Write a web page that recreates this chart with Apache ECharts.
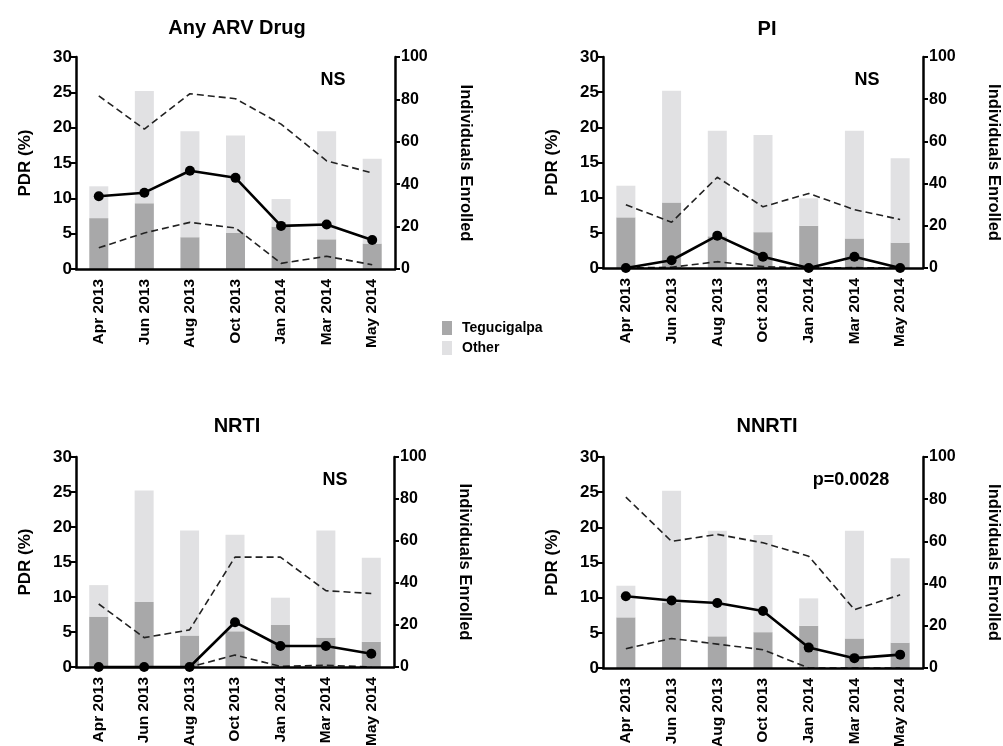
<!DOCTYPE html>
<html><head><meta charset="utf-8">
<script src="https://cdn.jsdelivr.net/npm/echarts@6/dist/echarts.min.js"></script>
<style>html,body{margin:0;padding:0;background:#fff}#c{width:1003px;height:746px}</style>
</head><body><div id="c"></div>
<script>
var categories = ['Apr 2013','Jun 2013','Aug 2013','Oct 2013','Jan 2014','Mar 2014','May 2014'];
var tegucigalpa = [24,31,15,17,20,14,12];
var other = [15,53,50,46,13,51,40];
var panelTitles = ['Any ARV Drug','PI','NRTI','NNRTI'];
var panelNotes = ['NS','NS','NS','p=0.0028'];
var pdrAny   = [10.3,10.8,13.9,12.9,6.1,6.3,4.1];
var upperAny = [24.5,19.8,24.8,24.1,20.5,15.3,13.6];
var lowerAny = [3.0,5.1,6.6,5.8,0.8,1.8,0.6];
var pdrPI    = [0,1.1,4.6,1.6,0,1.6,0];
var upperPI  = [9.0,6.5,12.9,8.7,10.6,8.3,6.9];
var lowerPI  = [0,0.1,0.9,0.2,0,0.05,0];
var pdrNRTI   = [0,0,0,6.4,3.0,3.0,1.9];
var upperNRTI = [9.0,4.2,5.3,15.7,15.7,10.9,10.5];
var lowerNRTI = [0,0,0,1.7,0.1,0.25,0];
var pdrNNRTI   = [10.2,9.6,9.25,8.1,2.9,1.4,1.9];
var upperNNRTI = [24.3,18.0,19.0,17.8,15.9,8.3,10.4];
var lowerNNRTI = [2.75,4.2,3.4,2.6,0,0,0];
var pdrTicks = [0,5,10,15,20,25,30];
var enrolledTicks = [0,20,40,60,80,100];

var pdr = [pdrAny,pdrPI,pdrNRTI,pdrNNRTI];
var upper = [upperAny,upperPI,upperNRTI,upperNNRTI];
var lower = [lowerAny,lowerPI,lowerNRTI,lowerNNRTI];

var FONT = 'Liberation Sans, Arial, sans-serif';
var grids = [
  {left:76, top:57, width:319, height:212, outerBoundsMode:'none', containLabel:false},
  {left:603, top:57, width:320, height:211, outerBoundsMode:'none', containLabel:false},
  {left:76, top:457, width:318, height:210, outerBoundsMode:'none', containLabel:false},
  {left:603, top:457, width:320, height:211, outerBoundsMode:'none', containLabel:false}
];
var titleCenters = [[232,13],[762,14],[232,411],[762,411]];
var notePos = [[333,80],[867,80],[335,480],[851,480]];

var axisLineStyle = {color:'#000', width:2.5};
var xAxes = [], yAxes = [], series = [], titles = [], graphics = [];
for (var i=0;i<4;i++){
  xAxes.push({
    type:'category', gridIndex:i, data:categories, z:5,
    axisLine:{lineStyle:axisLineStyle},
    axisTick:{alignWithLabel:true, length:6, lineStyle:{color:'#000',width:2.5}},
    axisLabel:{rotate:90, color:'#000', fontFamily:FONT, fontWeight:'bold', fontSize:15.5, margin:10}
  });
  yAxes.push({
    type:'value', gridIndex:i, min:0, max:30, interval:5, position:'left', z:5,
    name:'PDR (%)', nameLocation:'middle', nameGap:42,
    nameTextStyle:{color:'#000', fontFamily:FONT, fontWeight:'bold', fontSize:17},
    axisLine:{show:true, lineStyle:axisLineStyle},
    axisTick:{show:true, length:5, lineStyle:{color:'#000',width:2}},
    axisLabel:{color:'#000', fontFamily:FONT, fontWeight:'bold', fontSize:17, margin:4},
    splitLine:{show:false}
  });
  yAxes.push({
    type:'value', gridIndex:i, min:0, max:100, interval:20, position:'right', z:5,
    name:'Individuals Enrolled', nameLocation:'middle', nameGap:62, nameRotate:-90,
    nameTextStyle:{color:'#000', fontFamily:FONT, fontWeight:'bold', fontSize:16.5},
    axisLine:{show:true, lineStyle:axisLineStyle},
    axisTick:{show:true, length:5, lineStyle:{color:'#000',width:2}},
    axisLabel:{color:'#000', fontFamily:FONT, fontWeight:'bold', fontSize:16, margin:6},
    splitLine:{show:false}
  });
  series.push({
    name:'Tegucigalpa', type:'bar', xAxisIndex:i, yAxisIndex:2*i+1, stack:'n'+i,
    barWidth:19, data:tegucigalpa, itemStyle:{color:'#a8a8a9'}, z:1
  });
  series.push({
    name:'Other', type:'bar', xAxisIndex:i, yAxisIndex:2*i+1, stack:'n'+i,
    barWidth:19, data:other, itemStyle:{color:'#e1e1e3'}, z:1
  });
  series.push({
    name:'Upper', type:'line', xAxisIndex:i, yAxisIndex:2*i, data:upper[i],
    symbol:'none', lineStyle:{color:'#222', width:1.6, type:[7,4]}, z:3, silent:true
  });
  series.push({
    name:'Lower', type:'line', xAxisIndex:i, yAxisIndex:2*i, data:lower[i],
    symbol:'none', lineStyle:{color:'#222', width:1.6, type:[7,4]}, z:3, silent:true
  });
  series.push({
    name:'PDR', type:'line', xAxisIndex:i, yAxisIndex:2*i, data:pdr[i],
    symbol:'circle', symbolSize:10, itemStyle:{color:'#000'},
    lineStyle:{color:'#000', width:2.6}, z:6
  });
  titles.push({
    text:panelTitles[i], left:titleCenters[i][0], top:titleCenters[i][1], textAlign:'center',
    textStyle:{color:'#000', fontFamily:FONT, fontWeight:'bold', fontSize:20}
  });
  graphics.push({
    type:'text', x:notePos[i][0], y:notePos[i][1], z:10,
    style:{text:panelNotes[i], fill:'#000', font:'bold 18px '+FONT, textAlign:'center', textVerticalAlign:'middle'}
  });
}

var chart = echarts.init(document.getElementById('c'), null, {renderer:'canvas'});
chart.setOption({
  animation:false,
  backgroundColor:'#fff',
  title:titles,
  grid:grids,
  xAxis:xAxes,
  yAxis:yAxes,
  legend:{
    data:['Tegucigalpa','Other'], orient:'vertical', left:437, top:316,
    itemWidth:10, itemHeight:14, itemGap:6, icon:'rect',
    textStyle:{color:'#000', fontFamily:FONT, fontWeight:'bold', fontSize:14, padding:[0,0,0,5]}
  },
  graphic:graphics,
  series:series
});
</script>
</body></html>
